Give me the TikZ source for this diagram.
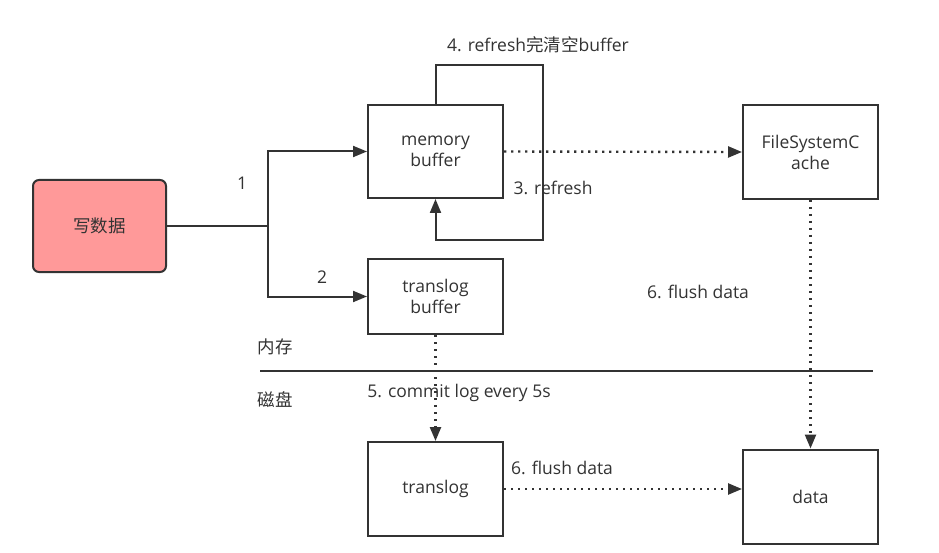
\documentclass[tikz,border=0pt]{standalone}
\usepackage{fontspec}
\setmainfont{Open Sans}
\newfontfamily\cjk{Noto Sans CJK SC}
\usetikzlibrary{arrows.meta}
\definecolor{ink}{HTML}{333333}
\definecolor{pinkfill}{HTML}{FF9999}
\begin{document}
\begin{tikzpicture}[x=1pt,y=-1pt,
  every node/.style={text=ink,font=\fontsize{17.5}{21}\selectfont},
  box/.style={draw=ink,line width=2pt,minimum width=135pt,minimum height=93pt,align=center,inner sep=0pt},
  conn/.style={draw=ink,line width=2pt},
  arr/.style={conn,-{Triangle[length=14pt,width=11pt]}},
  dotarr/.style={arr,line width=2.4pt,dash pattern=on 2.4pt off 4.6pt},
  lbl/.style={inner sep=1pt}]
\useasboundingbox[fill=white] (0,0) rectangle (939,553);
% boxes
\node[box,fill=pinkfill,rounded corners=6pt,minimum height=92pt,minimum width=133pt] (w) at (99.5,226) {\cjk 写数据};
\node[box] (mb) at (435.5,151.5) {memory\\buffer};
\node[box,minimum height=75pt] (tb) at (435.5,296.5) {translog\\buffer};
\node[box,minimum height=94pt] (fs) at (810.5,152) {FileSystemC\\ache};
\node[box,minimum height=94pt] (tl) at (435.5,489) {translog};
\node[box,minimum height=94pt] (dt) at (810.5,496.5) {data};
% coordinates
\coordinate (j) at (268,226);
\coordinate (lt) at (543,65);
\coordinate (lb) at (543,240);
\coordinate (sepL) at (260,371);
\coordinate (sepR) at (873,371);
% connectors
\draw[conn] (w.east) -- (j);
\draw[arr] (j) |- (mb.west);
\draw[arr] (j) |- (tb.west);
\draw[arr] (mb.north) |- (lt) -- (lb) -| (mb.south);
\draw[dotarr] (mb.east) -- (fs.west);
\draw[dotarr] (fs.south) -- (dt.north);
\draw[dotarr] (tb.south) -- (tl.north);
\draw[dotarr] (tl.east) -- (tl.east -| dt.west);
\draw[conn] (sepL) -- (sepR);
% labels
\node[lbl] (l1) at (242,183) {1};
\node[lbl] (l2) at (322,277) {2};
\node[lbl] (l4) at (538,45) {4. refresh{\cjk 完清空}buffer};
\node[lbl] (l3) at (553,188) {3. refresh};
\node[lbl] (l6a) at (698,292) {6. flush data};
\node[lbl] (ln) at (275,347) {\cjk 内存};
\node[lbl] (lc) at (275,400) {\cjk 磁盘};
\node[lbl] (l5) at (459,393) {5. commit log every 5s};
\node[lbl] (l6b) at (562,468) {6. flush data};
\end{tikzpicture}
\end{document}
